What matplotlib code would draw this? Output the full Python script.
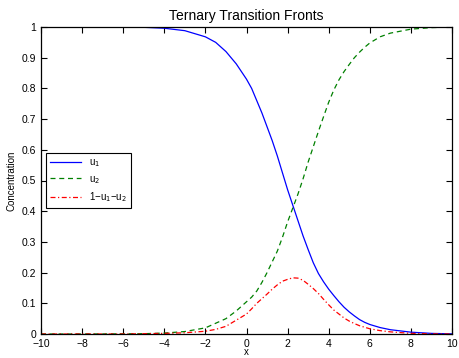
import matplotlib
matplotlib.use('Agg')
import matplotlib.pyplot as plt

# values
x = [-10, -8, -6, -5, -4, -3, -2, -1.5, -1, -0.5, 0, 0.25, 0.5, 0.75, 1, 1.25,
     1.5, 1.75, 2, 2.25, 2.5, 2.75, 3, 3.25, 3.5, 3.75, 4, 4.25, 4.5, 4.75,
     5, 5.25, 5.5, 5.75, 6, 6.5, 7, 8, 9, 10]
u1 = [1.0, 1.0, 1.0, 0.999, 0.996, 0.988, 0.968, 0.95, 0.92, 0.88, 0.83, 0.80,
      0.76, 0.72, 0.675, 0.63, 0.58, 0.525, 0.47, 0.42, 0.37, 0.32, 0.275,
      0.232, 0.197, 0.17, 0.146, 0.125, 0.105, 0.087, 0.072, 0.059, 0.047,
      0.038, 0.031, 0.021, 0.014, 0.006, 0.002, 0.0005]
u2 = [0.0, 0.0, 0.0005, 0.001, 0.003, 0.008, 0.02, 0.035, 0.05, 0.075, 0.105,
      0.12, 0.14, 0.168, 0.2, 0.235, 0.27, 0.315, 0.365, 0.41, 0.455, 0.505,
      0.56, 0.61, 0.66, 0.708, 0.755, 0.795, 0.828, 0.855, 0.878, 0.90, 0.918,
      0.934, 0.948, 0.968, 0.98, 0.993, 0.998, 1.0]
u3 = [0.0, 0.0, 0.0, 0.001, 0.002, 0.004, 0.009, 0.015, 0.025, 0.045, 0.065,
      0.082, 0.10, 0.115, 0.13, 0.146, 0.16, 0.172, 0.178, 0.183, 0.182, 0.175,
      0.162, 0.148, 0.132, 0.113, 0.095, 0.078, 0.065, 0.052, 0.042, 0.034,
      0.027, 0.022, 0.017, 0.011, 0.007, 0.002, 0.0005, 0.0]

xticks = list(range(-10, 11, 2))
yticks = [i / 10 for i in range(11)]
ytick_labels = ['0', '0.1', '0.2', '0.3', '0.4', '0.5', '0.6', '0.7', '0.8', '0.9', '1']

plt.rcParams['font.family'] = ['Liberation Sans', 'DejaVu Sans']

fig = plt.figure(figsize=(4.59, 3.58), dpi=100)
ax = fig.add_axes([41 / 459, 24 / 358, 411 / 459, 307 / 358])

ax.plot(x, u1, color='#0000ff', lw=0.9, label='u$_1$')
ax.plot(x, u2, color='#008000', lw=0.9, dashes=(4, 3), label='u$_2$')
ax.plot(x, u3, color='#ff0000', lw=0.9, dashes=(4, 2, 1, 2), label='1−u$_1$−u$_2$')

ax.set_xlim(-10, 10)
ax.set_ylim(0, 1)
ax.set_xticks(xticks)
ax.set_yticks(yticks)
ax.set_yticklabels(ytick_labels)
ax.tick_params(direction='in', top=True, right=True, length=4, width=0.8,
               labelsize=7.5)
ax.tick_params(axis='x', pad=3.5)
for s in ax.spines.values():
    s.set_linewidth(0.9)

ax.set_title('Ternary Transition Fronts', fontsize=10, pad=5)
ax.set_xlabel('x', fontsize=7, labelpad=-1)
ax.set_ylabel('Concentration', fontsize=7, labelpad=4)

leg = ax.legend(loc='upper left', bbox_to_anchor=(0.012, 0.589), borderaxespad=0,
                fontsize=7, fancybox=False, framealpha=1, edgecolor='black',
                handlelength=3.2, labelspacing=0.5, borderpad=0.4)
leg.get_frame().set_linewidth(0.8)

fig.savefig('out.png', dpi=100)
